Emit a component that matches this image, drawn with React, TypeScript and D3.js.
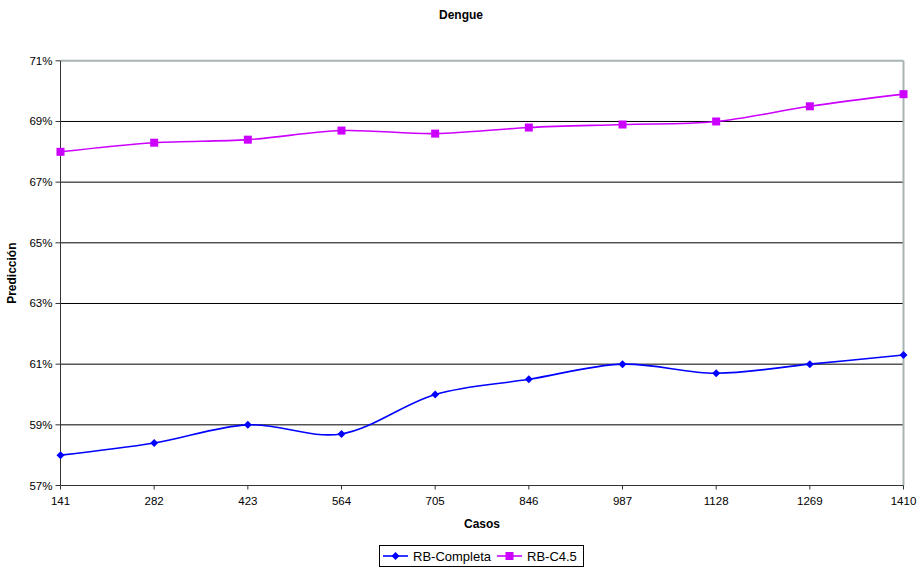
import React from "react";
import * as d3 from "d3";

const casos = [141, 282, 423, 564, 705, 846, 987, 1128, 1269, 1410];
const rbCompleta = [58.0, 58.4, 59.0, 58.7, 60.0, 60.5, 61.0, 60.7, 61.0, 61.3];
const rbC45 = [68.0, 68.3, 68.4, 68.7, 68.6, 68.8, 68.9, 69.0, 69.5, 69.9];
const yTicks = [57, 59, 61, 63, 65, 67, 69, 71];

const W = 922;
const H = 569;
const left = 60.5;
const right = 903.5;
const top = 60.8;
const bottom = 485.5;

const FONT = "'Liberation Sans', Arial, sans-serif";
const BLUE = "#0000ff";
const MAGENTA = "#cc00ff";
const BORDER = "#a8b4b4";

export default function App() {
  const x = d3.scalePoint<number>().domain(casos).range([left, right]);
  const y = d3.scaleLinear().domain([57, 71]).range([bottom, top]);

  const line = d3
    .line<number>()
    .x((_, i) => x(casos[i]) as number)
    .y((d) => y(d))
    .curve(d3.curveCatmullRom.alpha(0));

  const diamond = (cx: number, cy: number, r = 4) =>
    `M${cx},${cy - r}L${cx + r},${cy}L${cx},${cy + r}L${cx - r},${cy}Z`;

  const legendY = 556;

  return (
    <svg
      width={W}
      height={H}
      style={{ position: "absolute", left: 0, top: 0, background: "#fff" }}
      fontFamily={FONT}
    >
      <text x={461} y={19} textAnchor="middle" fontSize={12} fontWeight="bold">
        Dengue
      </text>

      {/* gridlines */}
      {yTicks.slice(1, -1).map((t) => (
        <line key={t} x1={left} x2={right} y1={y(t)} y2={y(t)} stroke="#000" strokeWidth={1} />
      ))}
      {/* plot area border (top/right) */}
      <line x1={left} x2={right} y1={y(71)} y2={y(71)} stroke={BORDER} strokeWidth={2} />
      <line x1={right} x2={right} y1={top} y2={bottom} stroke={BORDER} strokeWidth={2} />

      {/* axes */}
      <line x1={left} x2={left} y1={top} y2={bottom} stroke="#333" strokeWidth={1} />
      <line x1={left} x2={right} y1={bottom} y2={bottom} stroke="#333" strokeWidth={1} />

      {yTicks.map((t) => (
        <g key={t}>
          <line x1={left - 5} x2={left} y1={y(t)} y2={y(t)} stroke="#333" />
          <text x={left - 8} y={y(t) + 4} textAnchor="end" fontSize={11.5}>
            {t}%
          </text>
        </g>
      ))}
      {casos.map((c) => (
        <g key={c}>
          <line x1={x(c)} x2={x(c)} y1={bottom} y2={bottom + 4} stroke="#333" />
          <text x={x(c)} y={bottom + 19} textAnchor="middle" fontSize={11.5}>
            {c}
          </text>
        </g>
      ))}

      <text x={(left + right) / 2} y={528} textAnchor="middle" fontSize={12} fontWeight="bold">
        Casos
      </text>
      <text
        transform={`translate(16,${(top + bottom) / 2}) rotate(-90)`}
        textAnchor="middle"
        fontSize={12}
        fontWeight="bold"
      >
        Predicción
      </text>

      {/* series */}
      <path d={line(rbC45) || ""} fill="none" stroke={MAGENTA} strokeWidth={1.6} />
      {rbC45.map((v, i) => (
        <rect key={i} x={(x(casos[i]) as number) - 4} y={y(v) - 4} width={8} height={8} fill={MAGENTA} />
      ))}
      <path d={line(rbCompleta) || ""} fill="none" stroke={BLUE} strokeWidth={1.6} />
      {rbCompleta.map((v, i) => (
        <path key={i} d={diamond(x(casos[i]) as number, y(v))} fill={BLUE} />
      ))}

      {/* legend */}
      <rect x={379.5} y={545.5} width={204} height={21} fill="#fff" stroke="#000" />
      <line x1={383} x2={408} y1={legendY} y2={legendY} stroke={BLUE} strokeWidth={1.6} />
      <path d={diamond(395.5, legendY)} fill={BLUE} />
      <text x={413} y={legendY + 4.5} fontSize={13}>
        RB-Completa
      </text>
      <line x1={497} x2={522} y1={legendY} y2={legendY} stroke={MAGENTA} strokeWidth={1.6} />
      <rect x={505.5} y={legendY - 4} width={8} height={8} fill={MAGENTA} />
      <text x={527} y={legendY + 4.5} fontSize={13}>
        RB-C4.5
      </text>
    </svg>
  );
}
